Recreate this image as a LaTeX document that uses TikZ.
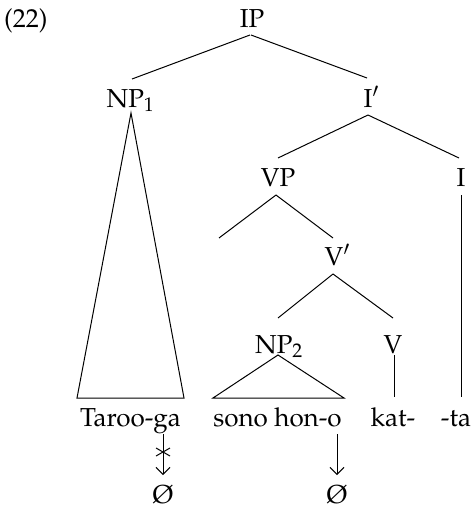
\documentclass[tikz,border=0pt]{standalone}
\usepackage[T1]{fontenc}
\usepackage{mathpazo}
\usetikzlibrary{calc,arrows.meta}
\begin{document}
\begin{tikzpicture}[x=1pt,y=-1pt,
  every node/.style={inner sep=0pt, anchor=base, font=\fontsize{26pt}{30pt}\selectfont},
  branch/.style={line width=1pt},
  derive/.style={line width=1pt, -{Straight Barb[length=7pt,width=14pt,line width=1pt]}}]
\useasboundingbox (0,0) rectangle (475,511);

% example number
\node[anchor=base west] (ex) at (4,28) {(22)};

% category labels
\node (IP)   at (252,28)   {IP};
\node (NPa)  at (130.5,107) {NP$_1$};
\node (Ibar) at (368,107)  {I\rlap{$'$}};
\node (VP)   at (278,186)  {VP};
\node (I)    at (461,186)  {I};
\node (Vbar) at (334,265)  {V\rlap{$'$}};
\node (NPb)  at (279,353)  {NP$_2$};
\node (V)    at (393,353)  {V};

% terminal strings
\node (taroo) at (130.5,426) {Taroo-ga};
\node (hon)   at (277.5,426) {sono hon-o};
\node (kat)   at (393,426)   {kat-};
\node (ta)    at (456,426)   {-ta};

% null elements
\node (nullA) at (163,503) {\O};
\node (nullB) at (337,503) {\O};

% empty left daughter of VP
\coordinate (gap) at (219,238);

% branches
\draw[branch] ($(IP.base)+(-2,7)$) -- ($(NPa.base)+(1.5,-28)$);
\draw[branch] ($(IP.base)+(-1,7)$) -- ($(Ibar.base)+(-1,-29)$);
\draw[branch] ($(Ibar.base)+(0,8)$) -- ($(VP.base)+(0,-28)$);
\draw[branch] ($(Ibar.base)+(0,8)$) -- ($(I.base)+(-2,-28)$);
\draw[branch] ($(VP.base)+(-2,9)$) -- (gap);
\draw[branch] ($(VP.base)+(-2,9)$) -- ($(Vbar.base)+(-1,-27)$);
\draw[branch] ($(Vbar.base)+(-1,9)$) -- ($(NPb.base)+(-1,-35)$);
\draw[branch] ($(Vbar.base)+(-1,9)$) -- ($(V.base)+(0,-35)$);

% triangles over phrases
\draw[branch] ($(NPa.base)+(0.5,6)$) -- ($(taroo.base)+(-53.5,-28)$)
  -- ($(taroo.base)+(53.5,-28)$) -- cycle;
\draw[branch] ($(NPb.base)+(-1,2)$) -- ($(hon.base)+(-64.5,-28)$)
  -- ($(hon.base)+(66.5,-28)$) -- cycle;

% heads to their morphemes
\draw[branch] ($(V.base)+(1,2)$) -- ($(kat.base)+(1,-29)$);
\draw[branch] ($(I.base)+(0,9)$) -- ($(ta.base)+(5,-29)$);

% deletion arrows
\draw[derive] ($(taroo.base -| nullA.base)+(0,8)$) -- ($(nullA.base)+(0,-28)$);
\draw[branch] ($(nullA.base)+(-7,-55)$) -- ($(nullA.base)+(7,-47)$);
\draw[branch] ($(nullA.base)+(-7,-47)$) -- ($(nullA.base)+(7,-55)$);
\draw[derive] ($(hon.base -| nullB.base)+(0,8)$) -- ($(nullB.base)+(0,-28)$);
\end{tikzpicture}
\end{document}
